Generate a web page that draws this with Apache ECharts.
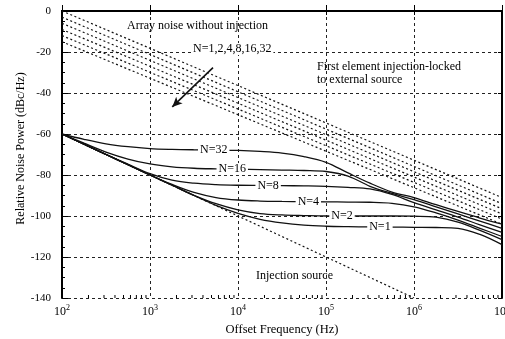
<!DOCTYPE html>
<html><head><meta charset="utf-8">
<script src="https://cdn.jsdelivr.net/npm/echarts@6/dist/echarts.min.js"></script>
<style>html,body{margin:0;padding:0;background:#fff}#c{width:505px;height:339px}</style>
</head><body><div id="c"></div>
<script>
// ---- data ----
const freqs = [1e2, 1.78e2, 3.16e2, 5.62e2, 1e3, 1.78e3, 3.16e3, 5.62e3, 1e4, 1.78e4, 3.16e4, 5.62e4,
               1e5, 1.78e5, 3.16e5, 5.62e5, 1e6, 1.78e6, 3.16e6, 5.62e6, 1e7];
const injectionSource = [-60, -65, -70, -75, -80, -85, -90, -95, -100, -105, -110, -115, -120, -125, -130, -135, -140];
const lockedN32 = [-60, -62.6, -64.8, -66.2, -67.1, -67.5, -67.7, -67.8, -68, -68.5, -69.3, -71, -73.8, -79, -84, -88.3, -91, -94.5, -97.8, -101, -104];
const lockedN16 = [-60, -64.5, -68.8, -72.2, -74.6, -76, -76.7, -77, -77.2, -77.4, -77.6, -77.8, -78.3, -80.5, -85.5, -89, -92, -95.5, -99, -102.5, -106];
const lockedN8  = [-60, -65, -69.9, -74.7, -79.3, -82.5, -84, -84.7, -85, -85.1, -85.2, -85.3, -85.5, -86, -86.8, -89.5, -93.5, -97, -100.5, -104.3, -108];
const lockedN4  = [-60, -65, -70, -75, -80, -84.6, -88.5, -91, -92.2, -92.7, -92.9, -93, -93.1, -93.2, -93.3, -93.8, -95.5, -98.5, -102, -106, -110];
const lockedN2  = [-60, -65, -70, -75, -80, -85, -89.9, -94, -97, -98.8, -99.5, -99.8, -100, -100, -100, -100, -100.1, -100.6, -103, -107, -111.5];
const lockedN1  = [-60, -65, -70, -75, -80, -85, -90, -94.8, -98.7, -101.6, -103.4, -104.5, -105, -105.2, -105.3, -105.4, -105.5, -105.6, -106, -109, -114];
const arrayFreqs = [1e2, 1e7];
const arrayNoiseStart = [0, -3, -6, -9, -12, -15];
const arrayNoiseEnd = [-91, -94, -96.5, -99, -101.5, -104];
const decades = [1e2, 1e3, 1e4, 1e5, 1e6];
const minorMultipliers = [2, 3, 4, 5, 6, 7, 8, 9];
const yTicks = [-140, -120, -100, -80, -60, -40, -20, 0];

// ---- chart ----
const FONT = '"Liberation Serif","DejaVu Serif",serif';
const INK = '#111';
const pair = (xs, ys) => ys.map((y, i) => [xs[i], y]);
const minorTicks = [];
decades.forEach(d => minorMultipliers.forEach(m => minorTicks.push([d * m, -140])));

const lockedSets = [
  {name: 'N=32', data: lockedN32, at: [5300, -67.75]},
  {name: 'N=16', data: lockedN16, at: [8600, -77.1]},
  {name: 'N=8',  data: lockedN8,  at: [22000, -85.1]},
  {name: 'N=4',  data: lockedN4,  at: [63000, -93.0]},
  {name: 'N=2',  data: lockedN2,  at: [152000, -100]},
  {name: 'N=1',  data: lockedN1,  at: [410000, -105.3]}
];

const series = [];
arrayNoiseStart.forEach((s, i) => {
  const ser = {
    type: 'line', name: 'array' + i, data: pair(arrayFreqs, [s, arrayNoiseEnd[i]]),
    symbol: 'none', silent: true, z: 2,
    lineStyle: {color: INK, width: 1.2, type: [2, 2.5]}
  };
  if (i === 0) {
    ser.markLine = {
      silent: true, symbol: ['none', 'arrow'], symbolSize: [7, 10],
      lineStyle: {color: INK, width: 1.6, type: 'solid'},
      label: {show: false},
      data: [[{coord: [5200, -27.6]}, {coord: [1790, -46.8]}]]
    };
  }
  series.push(ser);
});
series.push({
  type: 'line', name: 'injection', data: pair(freqs, injectionSource),
  symbol: 'none', silent: true, z: 2,
  lineStyle: {color: INK, width: 1.2, type: [2, 2.5]}
});
lockedSets.forEach(s => {
  series.push({
    type: 'line', name: s.name, data: pair(freqs, s.data), smooth: 0.35,
    symbol: 'none', silent: true, z: 4,
    lineStyle: {color: INK, width: 1.3},
    markPoint: {
      silent: true, symbol: 'rect', symbolSize: 1,
      itemStyle: {color: 'rgba(0,0,0,0)'},
      label: {show: true, position: 'inside', formatter: s.name, color: '#000',
              fontFamily: FONT, fontSize: 12, backgroundColor: '#fff', padding: [0, 2]},
      data: [{coord: s.at}]
    }
  });
});
series.push({
  type: 'custom', name: 'minorTicks', data: minorTicks, silent: true, z: 6,
  encode: {x: 0, y: 1},
  renderItem: (params, api) => {
    const p = api.coord([api.value(0), -140]);
    return {type: 'line', shape: {x1: p[0], y1: p[1], x2: p[0], y2: p[1] - 3},
            style: {stroke: '#000', lineWidth: 1}};
  }
});

const axisCommonLine = {show: true, lineStyle: {color: '#000', width: 2}};
const option = {
  animation: false,
  backgroundColor: '#fff',
  grid: {left: 62, right: 3, top: 11, bottom: 41, show: false, containLabel: false, outerBoundsMode: 'none'},
  xAxis: [{
    type: 'log', logBase: 10, min: 100, max: 1e7,
    axisLine: axisCommonLine,
    axisTick: {show: true, inside: true, length: 6, lineStyle: {color: '#000', width: 1}},
    axisLabel: {
      margin: 6, color: '#000', hideOverlap: false,
      formatter: v => '{b|10}{s|' + Math.round(Math.log10(v)) + '}',
      rich: {
        b: {fontFamily: FONT, fontSize: 12, color: '#000', verticalAlign: 'bottom'},
        s: {fontFamily: FONT, fontSize: 8, color: '#000', verticalAlign: 'bottom', padding: [0, 0, 6, 0]}
      }
    },
    splitLine: {show: true, lineStyle: {color: '#222', width: 1, type: [3, 3]}},
    name: 'Offset Frequency (Hz)', nameLocation: 'middle', nameGap: 22,
    nameTextStyle: {fontFamily: FONT, fontSize: 12.5, color: '#000'}
  }, {
    type: 'log', logBase: 10, min: 100, max: 1e7, position: 'top',
    axisLine: axisCommonLine,
    axisTick: {show: true, inside: true, length: 4, lineStyle: {color: '#000'}},
    axisLabel: {show: false}, splitLine: {show: false}
  }],
  yAxis: [{
    type: 'value', min: -140, max: 0, interval: 20,
    axisLine: axisCommonLine,
    axisTick: {show: true, inside: true, length: 6, lineStyle: {color: '#000'}},
    minorTick: {show: true, splitNumber: 4, length: 3, lineStyle: {color: '#000'}},
    axisLabel: {margin: 11, color: '#000', fontFamily: FONT, fontSize: 11,
                formatter: v => String(v)},
    splitLine: {show: true, lineStyle: {color: '#222', width: 1, type: [3, 3]}}
  }, {
    type: 'value', min: -140, max: 0, interval: 20, position: 'right',
    axisLine: axisCommonLine,
    axisTick: {show: true, inside: true, length: 4, lineStyle: {color: '#000'}},
    axisLabel: {show: false}, splitLine: {show: false}
  }],
  graphic: [
    {type: 'text', x: 21, y: 148.5, rotation: Math.PI / 2, z: 10,
     style: {text: 'Relative Noise Power (dBc/Hz)', font: '12px ' + FONT, fill: '#000', align: 'center', verticalAlign: 'middle'}},
    {type: 'text', left: 127, top: 20, z: 10, style: {text: 'Array noise without injection', font: '12px ' + FONT, fill: '#000'}},
    {type: 'text', left: 191, top: 43, z: 10, style: {text: 'N=1,2,4,8,16,32', font: '12px ' + FONT, fill: '#000', backgroundColor: '#fff', padding: [0, 2]}},
    {type: 'text', left: 317, top: 61, z: 10, style: {text: 'First element injection-locked', font: '12px ' + FONT, fill: '#000'}},
    {type: 'text', left: 317, top: 74, z: 10, style: {text: 'to external source', font: '12px ' + FONT, fill: '#000'}},
    {type: 'text', left: 256, top: 270, z: 10, style: {text: 'Injection source', font: '12px ' + FONT, fill: '#000'}}
  ],
  series: series
};
const chart = echarts.init(document.getElementById('c'), null, {renderer: 'canvas'});
chart.setOption(option);
</script>
</body></html>
